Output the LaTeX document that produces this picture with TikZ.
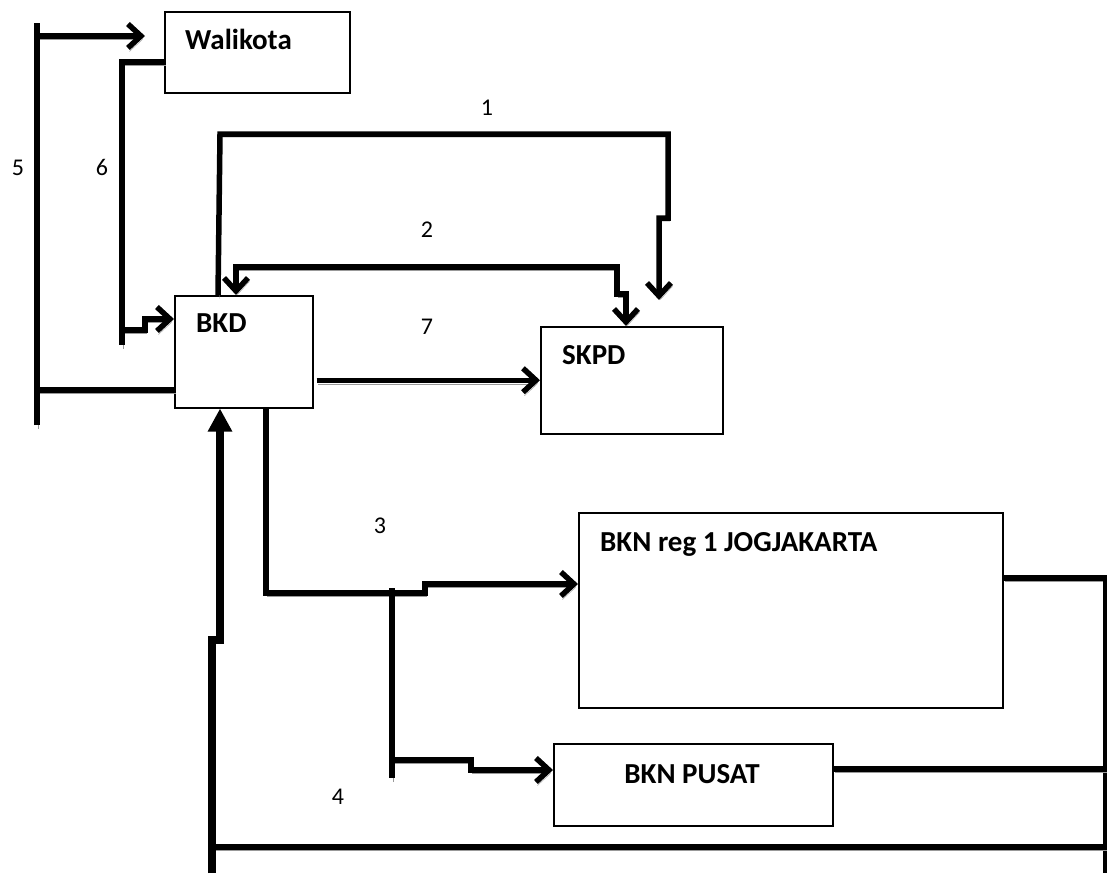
\documentclass[tikz,border=0pt]{standalone}
\usepackage{fontspec}
\setmainfont{Carlito}
\usepackage{tikz}
\usetikzlibrary{arrows.meta}

\begin{document}
\begin{tikzpicture}[x=1pt, y=-1pt,
    box/.style={draw, line width=1.5pt, inner sep=0pt, anchor=north west},
    boxtext/.style={font=\bfseries\fontsize{29}{33}\selectfont, inner sep=0pt},
    num/.style={font=\fontsize{24}{28}\selectfont, inner sep=0pt},
    flow/.style={line width=5.5pt, preaction={draw=black!40, transform canvas={shift={(1.5pt,-3.5pt)}}}},
    heavy/.style={line width=8pt},
    barb/.style={-{Straight Barb[length=13pt,width=24pt]}},
    barbs/.style={{Straight Barb[length=13pt,width=24pt]}-{Straight Barb[length=13pt,width=24pt]}}]
    \useasboundingbox (0,0) rectangle (1107,873);

    % Boxes
    \node[box, minimum width=185, minimum height=81] (wali) at (164,11) {};
    \node[boxtext, anchor=base west] (waliT) at (185,49) {Walikota};
    \node[box, minimum width=138, minimum height=112] (bkd) at (174,295) {};
    \node[boxtext, anchor=base west] (bkdT) at (196,332) {BKD};
    \node[box, minimum width=182, minimum height=107] (skpd) at (540,326) {};
    \node[boxtext, anchor=base west] (skpdT) at (562,364) {SKPD};
    \node[box, minimum width=424, minimum height=195] (bknreg) at (578,512) {};
    \node[boxtext, anchor=base west] (bknregT) at (600,551) {BKN reg 1 JOGJAKARTA};
    \node[box, minimum width=279, minimum height=82] (bknpusat) at (553,743) {};
    \node[boxtext, anchor=base] (bknpusatT) at (692,783) {BKN PUSAT};

    % Numbers
    \node[num] (n1) at (487,108) {1};
    \node[num] (n2) at (427,230) {2};
    \node[num] (n7) at (427,327) {7};
    \node[num] (n3) at (380,526) {3};
    \node[num] (n4) at (338,797) {4};
    \node[num] (n5) at (18,168) {5};
    \node[num] (n6) at (102,167) {6};

    % Free ends
    \coordinate (end5) at (145,36);
    \coordinate (end1) at (659,300);

    % 1: BKD to SKPD
    \draw[flow, barb] (bkd.north -| 218,0) -- (220,134) -- (668,134) -- (668,218) -- (659,218) -- (end1);
    % 2: BKD and SKPD
    \draw[flow, barbs] (bkd.north -| 236,0) -- (236,267) -- (617,267) -- (617,294) -- (626,294) -- (skpd.north -| 626,0);
    % 7: BKD to SKPD
    \draw[flow, barb] ([xshift=3pt]bkd.east |- skpd.west) -- (skpd.west);
    % 5: BKD to Walikota
    \draw[flow, barb] (bkd.west |- 0,390) -- (37,390) (37,425) -- (37,23) (37,36) -- (end5);
    % 6: Walikota to BKD
    \draw[flow, barb] (wali.west |- 0,62) -- (122,62) -- (122,345) (119,330) -- (145,330) -- (145,319) -- (bkd.west |- 0,319);
    % 3: BKD to BKN
    \draw[flow, barb] (bkd.south -| 266,0) -- (266,593) -- (425,593) -- (425,584) -- (bknreg.west |- 0,584);
    \draw[flow, barb] (392,588) -- (392,778) (392,760) -- (471,760) -- (471,770) -- (bknpusat.west |- 0,770);
    % 4: BKN back to BKD
    \draw[flow] (bknreg.east |- 0,578) -- (1106,578) -- (1106,873);
    \draw[flow] (bknpusat.east |- 0,769) -- (1106,769);
    \draw[flow] (1106,847) -- (212,847);
    \draw[heavy, -{Triangle[length=23pt,width=23pt]}] (212,873) -- (212,640) -- (220,640) -- (bkd.south -| 220,0);
\end{tikzpicture}
\end{document}
